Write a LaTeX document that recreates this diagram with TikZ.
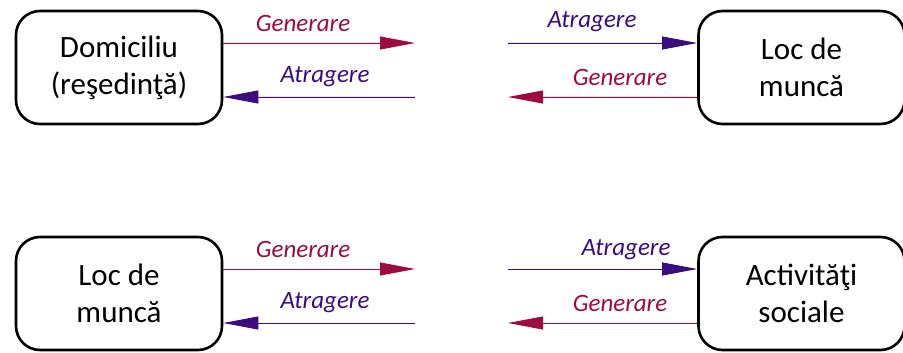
\documentclass[tikz,border=0pt]{standalone}
\usepackage{fontspec}
\setmainfont{Carlito}
\usetikzlibrary{arrows.meta}
\definecolor{genred}{HTML}{9E0B42}
\definecolor{atrpurple}{HTML}{3A0C7E}
\begin{document}
\begin{tikzpicture}[x=1pt,y=-1pt,
  placebox/.style={draw=black,line width=2.6pt,rounded corners=24pt,minimum width=206pt,minimum height=113pt,align=center,inner sep=0pt,font=\fontsize{31}{37}\selectfont},
  flow/.style={line width=0.9pt,-{Triangle[length=35pt,width=13pt]}},
  gen/.style={flow,draw=genred,fill=genred},
  atr/.style={flow,draw=atrpurple,fill=atrpurple},
  genlbl/.style={text=genred,anchor=base,inner sep=0pt,font=\fontsize{25}{30}\selectfont\itshape},
  atrlbl/.style={text=atrpurple,anchor=base,inner sep=0pt,font=\fontsize{25}{30}\selectfont\itshape}]
\useasboundingbox (0,0) rectangle (903,353);
% top row
\node[placebox] (dom) at (119,67.5) {Domiciliu\\(reşedinţă)};
\node[placebox] (loc1) at (801.5,67.5) {Loc de\\muncă};
\coordinate (a1) at (415,43);
\coordinate (a2) at (415,97);
\coordinate (b1) at (508,43);
\coordinate (b2) at (508,97);
\draw[gen] (dom.east |- a1) -- (a1);
\draw[atr] (a2) -- (dom.east |- a2);
\draw[atr] (b1) -- (loc1.west |- b1);
\draw[gen] (loc1.west |- b2) -- (b2);
\node[genlbl] (l1) at (303,32) {Generare};
\node[atrlbl] (l2) at (325,82) {Atragere};
\node[atrlbl] (l3) at (592,28) {Atragere};
\node[genlbl] (l4) at (620,85) {Generare};
% bottom row
\node[placebox] (loc2) at (119,293.5) {Loc de\\muncă};
\node[placebox] (act) at (801.5,293.5) {Activităţi\\sociale};
\coordinate (c1) at (415,269);
\coordinate (c2) at (415,323);
\coordinate (d1) at (508,269);
\coordinate (d2) at (508,323);
\draw[gen] (loc2.east |- c1) -- (c1);
\draw[atr] (c2) -- (loc2.east |- c2);
\draw[atr] (d1) -- (act.west |- d1);
\draw[gen] (act.west |- d2) -- (d2);
\node[genlbl] (l5) at (303,257) {Generare};
\node[atrlbl] (l6) at (325,308) {Atragere};
\node[atrlbl] (l7) at (626,255) {Atragere};
\node[genlbl] (l8) at (620,311) {Generare};
\end{tikzpicture}
\end{document}
